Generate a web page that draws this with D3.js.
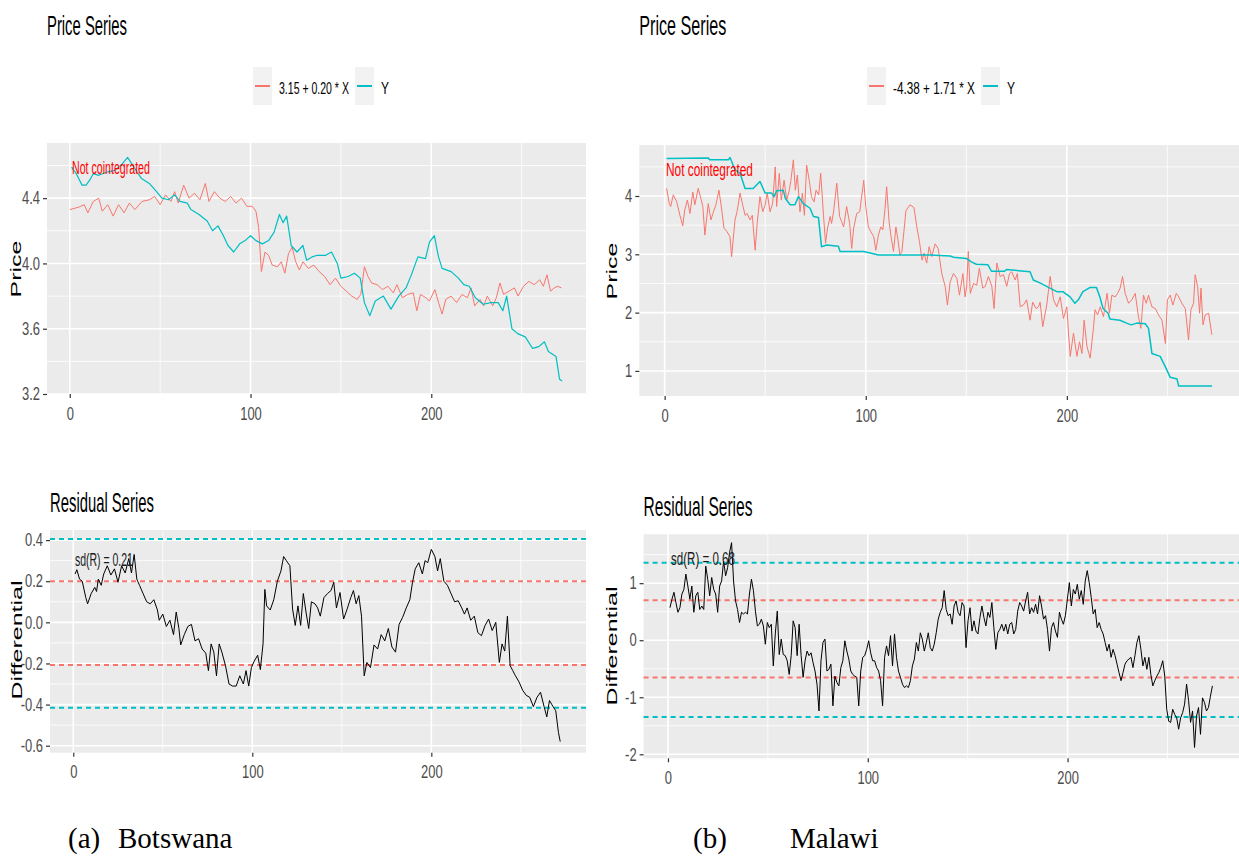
<!DOCTYPE html>
<html>
<head>
<meta charset="utf-8">
<script src="https://cdn.jsdelivr.net/npm/d3@7"></script>
<style>
  body { margin: 0; background: #fff; }
  svg { display: block; }
</style>
</head>
<body>
<script>
// ---- data: [t, value] ----
const xTicks = [0, 100, 200];
const xMinor = [50, 150, 250];

// (a) Botswana
const botswanaLegend = ["3.15 + 0.20 * X", "Y"];
const botswanaFitted = [[0,4.33],[5,4.345],[8,4.36],[10,4.31],[13,4.38],[16,4.40],[18,4.32],[21,4.36],[24,4.29],[27,4.36],[30,4.31],[33,4.37],[36,4.33],[40,4.38],[44,4.39],[47,4.41],[50,4.36],[53,4.42],[56,4.38],[58,4.44],[60,4.37],[63,4.48],[66,4.40],[69,4.43],[72,4.39],[75,4.49],[77,4.38],[80,4.44],[83,4.40],[86,4.38],[89,4.41],[92,4.37],[95,4.40],[98,4.35],[101,4.35],[103,4.32],[104.5,4.22],[106,3.95],[108,4.07],[110,4.05],[112,3.99],[115,3.98],[117,4.01],[119,3.94],[121,4.06],[123,4.10],[125,4.01],[127,3.96],[129,4.01],[132,3.97],[135,3.99],[138,3.95],[141,3.92],[144,3.87],[147,3.91],[150,3.86],[153,3.83],[156,3.80],[159,3.78],[161,3.81],[163,3.98],[165,3.92],[167,3.88],[170,3.87],[173,3.84],[176,3.86],[179,3.82],[181,3.87],[184,3.79],[187,3.81],[190,3.82],[192,3.71],[194,3.81],[197,3.79],[199,3.77],[202,3.84],[204,3.76],[206,3.69],[208,3.78],[211,3.80],[214,3.76],[217,3.81],[220,3.79],[222,3.85],[224,3.74],[227,3.78],[229,3.74],[231,3.80],[234,3.74],[236,3.79],[238,3.88],[240,3.81],[243,3.83],[246,3.85],[248,3.80],[251,3.86],[254,3.89],[257,3.87],[260,3.90],[262,3.86],[264,3.93],[266,3.83],[268,3.85],[270,3.86],[272,3.85]];
const botswanaY = [[1,4.59],[3.6,4.55],[6.8,4.48],[9,4.48],[11,4.51],[13,4.55],[16,4.54],[20.6,4.56],[25,4.57],[29,4.61],[32,4.65],[35.5,4.59],[39.7,4.52],[44,4.49],[48,4.44],[51,4.40],[54.6,4.39],[58,4.42],[61,4.38],[65,4.37],[67,4.33],[71.5,4.30],[76,4.26],[79,4.20],[82,4.23],[85,4.17],[87.5,4.11],[90.7,4.07],[94,4.12],[97,4.14],[100,4.17],[103,4.14],[106.6,4.12],[110,4.14],[113,4.19],[116,4.30],[118,4.25],[120,4.29],[122.5,4.11],[125.7,4.07],[129,4.11],[131,4.02],[134,4.04],[137,4.05],[141.6,4.05],[144.8,4.07],[148,4.00],[150,3.91],[154,3.92],[157.5,3.94],[160.7,3.91],[163,3.76],[166,3.68],[169,3.77],[173.5,3.80],[177.7,3.72],[182,3.80],[186,3.85],[189,3.93],[192.6,4.04],[196.8,4.03],[199,4.13],[201.7,4.17],[204,4.04],[206,3.97],[211,3.95],[215,3.91],[218,3.87],[221,3.86],[224.4,3.79],[228.7,3.75],[233,3.76],[237,3.76],[239.6,3.71],[241.7,3.80],[244.6,3.60],[247.8,3.57],[252,3.55],[256,3.48],[259.5,3.49],[262.6,3.52],[264.8,3.46],[269,3.43],[271,3.29],[272.4,3.28]];
const botswanaResid = [[1,0.235],[2,0.256],[3.5,0.21],[5,0.20],[7,0.12],[8,0.09],[10,0.14],[12,0.17],[13,0.15],[14,0.21],[15.6,0.18],[17,0.235],[19,0.275],[21,0.23],[23,0.26],[25,0.195],[27,0.275],[29,0.24],[31,0.31],[32.5,0.24],[34,0.33],[35.5,0.21],[37,0.18],[39,0.14],[41,0.10],[43,0.09],[45,0.11],[47,0.06],[48,0.01],[50,0.04],[52,-0.02],[54,0.01],[56,-0.06],[57.5,0.05],[59,-0.03],[60,-0.11],[62,-0.06],[64,-0.02],[66,-0.01],[68,-0.09],[70,-0.08],[72,-0.13],[74,-0.15],[75.5,-0.235],[77,-0.105],[78.5,-0.145],[80,-0.26],[81.5,-0.105],[83,-0.145],[85,-0.21],[87,-0.30],[89,-0.31],[91,-0.31],[93,-0.26],[95,-0.30],[96.5,-0.235],[98,-0.31],[99.5,-0.22],[101,-0.19],[103,-0.16],[104.5,-0.23],[106,-0.105],[107,0.16],[108,0.08],[110,0.06],[112,0.11],[114,0.20],[116,0.25],[117.5,0.32],[119,0.30],[121,0.275],[122.5,0.065],[124,-0.015],[125.5,0.08],[127,-0.015],[128.5,0.14],[130,0.05],[131.5,-0.03],[133,0.10],[135,0.09],[136.5,0.07],[138,0.03],[140,0.12],[142,0.14],[144,0.155],[145.5,0.195],[147,0.07],[149,0.145],[151,0.016],[153,0.065],[155,0.12],[156.5,0.155],[158,0.09],[159.5,0.13],[161,0.03],[162.5,-0.26],[164,-0.195],[166,-0.22],[168,-0.11],[170,-0.13],[172,-0.06],[174,-0.09],[176,-0.03],[178,-0.12],[180,-0.145],[182,-0.01],[184,0.025],[186,0.07],[188,0.11],[189.5,0.195],[191,0.26],[193,0.29],[195,0.235],[196.5,0.30],[198,0.29],[200,0.355],[202,0.32],[203.5,0.25],[205,0.31],[207,0.20],[209,0.18],[211,0.14],[213,0.10],[215,0.105],[217,0.07],[218.5,0.04],[220,0.07],[222,0.01],[224,0.03],[226,-0.05],[228,-0.065],[230,-0.016],[232,0.016],[234,-0.04],[236,0],[238,-0.195],[239.5,-0.105],[241,-0.14],[242.5,0.03],[244,-0.21],[245.5,-0.235],[247,-0.26],[249,-0.29],[251,-0.33],[253,-0.355],[255,-0.365],[257,-0.41],[259,-0.365],[261,-0.34],[263,-0.41],[264.5,-0.46],[266,-0.38],[268,-0.41],[269.5,-0.43],[271,-0.535],[272,-0.58]];
const botswanaSd = "sd(R) = 0.21";
const botswanaSdLines = [0.20, -0.208];
const botswanaTwoSdLines = [0.405, -0.416];

// (b) Malawi
const malawiLegend = ["-4.38 + 1.71 * X", "Y"];
const malawiFitted = [[1,4.13],[2.3,3.87],[3,3.82],[4.3,4.02],[6,3.90],[7.6,3.67],[9,3.49],[10,3.76],[11.3,3.93],[12.6,3.70],[14,4.07],[15,3.85],[16.7,4.13],[18,3.96],[19,3.82],[20,3.33],[21.7,3.87],[23,3.59],[24,3.70],[25.5,3.85],[27,4.10],[28.4,3.76],[29.5,3.45],[31,3.39],[32.5,3.30],[33.3,2.96],[35,3.59],[36,3.73],[37.5,4.05],[38.8,3.85],[40,3.67],[41,3.70],[42.5,3.59],[43.6,3.67],[45,3.07],[46,3.53],[47.4,3.99],[48.8,3.73],[50,3.85],[51,4.05],[52.4,3.73],[53.7,3.87],[55,4.50],[55.7,3.82],[57,4.39],[58,3.93],[59.4,4.27],[60.7,3.93],[62,4.10],[62.8,4.27],[64,4.62],[65,4.10],[66,4.36],[67.3,3.73],[68.5,4.05],[69.5,3.67],[70.6,4.53],[72,4.25],[73,3.99],[74.3,3.90],[75.3,4.10],[76.6,4.02],[77.6,4.39],[79,3.67],[80,3.19],[81,3.45],[82.3,3.65],[83,3.53],[84,3.73],[85.6,4.22],[87,3.65],[88,3.56],[89,3.47],[90.5,3.82],[92,3.53],[93,3.10],[94,3.45],[95.5,3.70],[97,3.73],[99,4.27],[100,3.82],[101.3,3.47],[102.5,3.39],[104,3.30],[105,3.07],[106.3,3.33],[107.5,3.47],[108.5,3.42],[109.6,3.79],[110.4,4.16],[111.6,3.56],[112.6,3.30],[113.8,3.05],[115,3.47],[116,3.25],[117,2.99],[118,3.05],[120,3.75],[122,3.85],[124,3.80],[125.4,3.47],[126.7,3.22],[128,2.90],[129,3.02],[130.3,2.85],[131.5,3.13],[132.8,2.96],[134.5,3.18],[136,3.10],[137.8,2.67],[139.5,2.45],[140.6,2.13],[142,2.53],[143.6,2.67],[145.3,2.59],[146.6,2.30],[148.3,2.67],[149.4,2.27],[150.2,2.45],[151,3.05],[152,2.33],[153.6,2.50],[155.2,2.47],[156.5,2.76],[158.2,2.42],[159.4,2.45],[161,2.62],[162.7,2.45],[163.8,2.07],[165.2,2.85],[166.8,2.62],[168.5,2.65],[170.1,2.45],[171.5,2.67],[172.6,2.70],[174.3,2.56],[175.4,2.67],[176.8,2.10],[178.4,2.13],[180,2.22],[181.7,1.87],[183,2.18],[184.7,2.07],[185.9,2.10],[186.7,2.18],[188,1.76],[190,2.13],[191.7,2.62],[193.4,2.22],[195,2.10],[196.7,2.27],[198.3,1.90],[200,2.10],[200.8,1.65],[201.7,1.25],[203.3,1.65],[205,1.25],[206.3,1.50],[207.5,1.30],[208.6,1.87],[210,1.42],[211.6,1.22],[213.3,1.76],[214,2.05],[215.3,1.96],[216.6,2.10],[218.2,1.93],[220,2.33],[221.2,1.99],[222.4,2.30],[224,2.27],[225.2,2.33],[226.5,2.42],[227.7,2.62],[229,2.33],[230.7,2.16],[232.3,2.22],[234,2.33],[235.6,1.93],[236.8,1.73],[238.1,2.30],[239.5,2.16],[240.6,2.30],[242.3,2.10],[244,2.07],[245.6,1.96],[247.3,1.87],[249,1.47],[250,2.22],[251.4,2.30],[252.7,2.13],[254.4,2.33],[255.6,2.27],[257.2,2.16],[258.9,2.07],[260.5,1.53],[261.7,2.05],[263,2.16],[263.8,2.65],[265,2.45],[266,1.99],[266.7,2.42],[267.7,1.79],[268.8,1.96],[270.5,1.99],[272.1,1.62]];
const malawiY = [[1,4.645],[21.7,4.65],[22.5,4.62],[31.7,4.62],[32.5,4.66],[35,4.45],[37.5,4.39],[40,4.13],[44,4.13],[47.4,4.25],[50,4.05],[53.2,4.05],[54.4,3.99],[55.7,4.09],[59,4.10],[60,3.96],[62.4,3.85],[64.8,3.85],[66.5,3.99],[69,3.87],[72.3,3.79],[74,3.65],[76.5,3.63],[78,3.13],[80.6,3.16],[86.4,3.14],[87.2,3.05],[99,3.05],[106.3,2.99],[132,2.99],[142,2.97],[143.6,2.95],[150,2.93],[152.5,2.87],[155,2.83],[160.8,2.82],[162.5,2.71],[169,2.71],[170,2.74],[181.7,2.70],[183.3,2.56],[186.6,2.51],[191.6,2.42],[195,2.36],[198,2.36],[201.6,2.27],[204,2.16],[205.7,2.22],[208,2.36],[211.4,2.43],[214.7,2.43],[216.4,2.27],[218,2.07],[220.5,1.99],[221.4,1.89],[226.4,1.87],[229.7,1.82],[232,1.79],[234.8,1.82],[239,1.81],[240.6,1.73],[242.3,1.30],[246.4,1.25],[249,1.07],[251.4,0.89],[254.8,0.86],[255.6,0.74],[272.2,0.74]];
// residual read at even steps from t = 1 to t = 272.5
const malawiResidRange = [1, 272.5];
const malawiResid = [0.57,0.72,0.84,0.66,0.49,0.57,0.81,0.89,1.16,0.95,0.72,0.95,0.49,0.78,0.84,0.54,0.60,0.54,1.30,1.07,0.78,1.10,0.89,0.81,0.49,0.95,1.04,1.39,1.13,1.27,1.54,1.71,1.04,0.69,0.54,0.31,0.49,0.46,0.49,0.46,0.81,1.07,0.87,0.51,0.25,0.28,0.37,0.25,-0.07,0.31,0.22,0.28,-0.45,0.11,0.51,-0.25,0.02,-0.25,-0.27,-0.36,-0.60,-0.27,0.34,0.22,-0.27,0.28,-0.27,-0.65,-0.36,-0.19,-0.27,-0.22,-0.39,-0.54,-0.77,-1.24,-0.36,-0.04,0.02,-0.54,-0.51,-0.42,-1.15,-0.63,-0.74,-0.80,-0.48,-0.36,-0.01,-0.19,-0.33,-0.54,-0.60,-0.63,-0.65,-1.15,-0.54,-0.30,-0.27,-0.16,-0.01,-0.22,-0.36,-0.36,-0.48,-0.54,-0.71,-1.15,-0.30,-0.10,-0.27,0.08,-0.45,0.11,-0.30,-0.54,-0.65,-0.77,-0.83,-0.80,-0.83,-0.71,-0.45,-0.33,-0.04,-0.19,0.13,0.02,-0.19,-0.04,0.13,-0.13,-0.19,-0.07,0.13,0.37,0.49,0.57,0.87,0.54,0.43,0.46,0.28,0.60,0.69,0.49,0.43,0.66,0.60,-0.13,0.34,0.57,0.16,0.34,0.16,0.11,0.40,0.60,0.40,0.25,0.49,0.40,0.66,0.22,-0.16,0.13,0.19,0.28,0.16,0.28,0.11,0.28,0.31,0.11,0.19,0.51,0.66,0.60,0.51,0.69,0.84,0.46,0.57,0.49,0.63,0.46,0.78,0.60,0.37,0.43,0.19,-0.19,0.22,0.31,0.16,0.05,0.49,0.37,0.28,0.43,0.72,1.01,0.60,0.89,0.81,0.98,0.72,0.87,0.63,1.04,1.22,1.01,0.75,0.46,0.54,0.22,0.31,0.19,0.11,-0.04,-0.19,-0.07,-0.30,-0.16,-0.27,-0.42,-0.57,-0.71,-0.57,-0.42,-0.36,-0.33,-0.30,-0.48,-0.27,-0.04,0.08,-0.16,-0.45,-0.30,-0.51,-0.30,-0.60,-0.80,-0.71,-0.63,-0.57,-0.48,-0.36,-0.63,-1.21,-1.42,-1.44,-1.21,-1.30,-1.36,-1.56,-1.36,-1.27,-1.12,-0.77,-1.06,-1.44,-1.24,-1.88,-1.33,-1.18,-1.65,-1.01,-1.09,-1.24,-1.18,-0.98,-0.80];
const malawiSd = "sd(R) = 0.68";
const malawiSdLines = [0.70, -0.655];
const malawiTwoSdLines = [1.36, -1.345];

// ---- drawing ----
const RED = "#F8766D", CYAN = "#00BFC4";
const sans = "'Liberation Sans', Arial, sans-serif";

const svg = d3.select("body").append("svg")
  .attr("width", 1239).attr("height", 856);

// ggplot prints a plain hyphen for negatives
const fmt = f => d => d3.format(f)(d).replace("\u2212", "-");

// squash a text horizontally by scaling it around its anchor point
function narrow(sel, k) {
  sel.each(function () {
    const t = d3.select(this);
    const x = +t.attr("x") || 0, y = +t.attr("y") || 0;
    t.attr("transform", `translate(${x},${y}) scale(${k},1) translate(${-x},${-y})`);
  });
}

// make a text exactly w pixels wide with a horizontal scale
function fitWidth(sel, w) {
  sel.each(function () {
    const natural = this.getComputedTextLength();
    narrow(d3.select(this), w / natural);
  });
}

function panel(o) {
  const x = d3.scaleLinear().domain(o.xDomain).range([o.left, o.right]);
  const y = d3.scaleLinear().domain(o.yDomain).range([o.bottom, o.top]);
  const g = svg.append("g");

  g.append("rect")
    .attr("x", o.left).attr("y", o.top)
    .attr("width", o.right - o.left).attr("height", o.bottom - o.top)
    .attr("fill", "#EBEBEB");

  // grid
  g.selectAll(".ymin").data(o.yMinor).join("line")
    .attr("x1", o.left).attr("x2", o.right)
    .attr("y1", d => y(d)).attr("y2", d => y(d))
    .attr("stroke", "#fff").attr("stroke-width", 0.8);
  g.selectAll(".xmin").data(xMinor).join("line")
    .attr("x1", d => x(d)).attr("x2", d => x(d))
    .attr("y1", o.top).attr("y2", o.bottom)
    .attr("stroke", "#fff").attr("stroke-width", 0.8);
  g.selectAll(".ymaj").data(o.yTicks).join("line")
    .attr("x1", o.left).attr("x2", o.right)
    .attr("y1", d => y(d)).attr("y2", d => y(d))
    .attr("stroke", "#fff").attr("stroke-width", 1.6);
  g.selectAll(".xmaj").data(xTicks).join("line")
    .attr("x1", d => x(d)).attr("x2", d => x(d))
    .attr("y1", o.top).attr("y2", o.bottom)
    .attr("stroke", "#fff").attr("stroke-width", 1.6);

  // axes
  const ya = g.append("g")
    .attr("transform", `translate(${o.left},0)`)
    .call(d3.axisLeft(y).tickValues(o.yTicks).tickFormat(o.yFormat).tickSize(4).tickPadding(3));
  const xa = g.append("g")
    .attr("transform", `translate(0,${o.bottom})`)
    .call(d3.axisBottom(x).tickValues(xTicks).tickFormat(d3.format("d")).tickSize(4).tickPadding(9));
  [ya, xa].forEach(a => {
    a.select(".domain").remove();
    a.selectAll(".tick line").attr("stroke", "#333").attr("stroke-width", 1.2);
    a.selectAll("text")
      .attr("fill", "#4D4D4D").attr("font-family", sans).attr("font-size", 18);
    narrow(a.selectAll("text"), 0.72);
  });

  // y title
  g.append("text")
    .attr("transform", `translate(${o.yTitleX},${o.yTitleY}) scale(0.6,1) rotate(-90)`)
    .attr("text-anchor", "middle")
    .attr("font-family", sans).attr("font-size", 25).attr("fill", "#000")
    .text(o.yTitle);

  // panel title
  g.append("text")
    .attr("x", o.left).attr("y", o.titleY)
    .attr("font-family", sans).attr("font-size", 27).attr("fill", "#000")
    .text(o.title)
    .call(fitWidth, o.titleW);

  return { x, y, g };
}

function series(p, data, color, width) {
  p.g.append("path")
    .datum(data)
    .attr("fill", "none").attr("stroke", color).attr("stroke-width", width)
    .attr("stroke-linejoin", "round")
    .attr("d", d3.line().x(d => p.x(d[0])).y(d => p.y(d[1])));
}

function hlines(p, vals, color) {
  p.g.selectAll(null).data(vals).join("line")
    .attr("x1", p.x.range()[0]).attr("x2", p.x.range()[1])
    .attr("y1", d => p.y(d)).attr("y2", d => p.y(d))
    .attr("stroke", color).attr("stroke-width", 2)
    .attr("stroke-dasharray", "5,4");
}

function note(p, txt, xPos, yMid, w, color) {
  p.g.append("text")
    .attr("x", xPos).attr("y", yMid + 6)
    .attr("font-family", sans).attr("font-size", 19).attr("fill", color)
    .text(txt)
    .call(fitWidth, w);
}

function legend(labels, x0, widths, yMid) {
  const colors = [RED, CYAN];
  let cx = x0;
  labels.forEach((lab, i) => {
    svg.append("rect").attr("x", cx).attr("y", yMid - 21).attr("width", 19).attr("height", 38)
      .attr("fill", "#F2F2F2");
    svg.append("line").attr("x1", cx + 2).attr("x2", cx + 17)
      .attr("y1", yMid - 2).attr("y2", yMid - 2)
      .attr("stroke", colors[i]).attr("stroke-width", 2);
    svg.append("text").attr("x", cx + 26).attr("y", yMid + 6)
      .attr("font-family", sans).attr("font-size", 17).attr("fill", "#000")
      .text(lab)
      .call(fitWidth, widths[i]);
    cx += 26 + widths[i] + 6;
  });
}

// (a) Botswana price
const pA = panel({
  left: 47, right: 586, top: 143, bottom: 394,
  xDomain: [-12.6, 285.6], yDomain: [3.2, 4.738],
  yTicks: [3.2, 3.6, 4.0, 4.4], yMinor: [3.4, 3.8, 4.2, 4.6], yFormat: fmt(".1f"),
  yTitle: "Price", yTitleX: 21, yTitleY: 269,
  title: "Price Series", titleY: 35, titleW: 80
});
series(pA, botswanaFitted, RED, 1);
series(pA, botswanaY, CYAN, 1.2);
note(pA, "Not cointegrated", 72, 168, 78, "#FF0000");
legend(botswanaLegend, 253, [70, 8], 88);

// (a) Botswana residual
const rA = panel({
  left: 50, right: 586, top: 530, bottom: 752.7,
  xDomain: [-13, 286.4], yDomain: [-0.634, 0.449],
  yTicks: [-0.6, -0.4, -0.2, 0, 0.2, 0.4], yMinor: [-0.5, -0.3, -0.1, 0.1, 0.3], yFormat: fmt(".1f"),
  yTitle: "Differential", yTitleX: 22, yTitleY: 640,
  title: "Residual Series", titleY: 512, titleW: 104
});
hlines(rA, botswanaSdLines, RED);
hlines(rA, botswanaTwoSdLines, CYAN);
series(rA, botswanaResid, "#000", 1);
note(rA, botswanaSd, 75, 560, 58, "#1A1A1A");

// (b) Malawi price
const pB = panel({
  left: 639.3, right: 1239, top: 145, bottom: 396,
  xDomain: [-12.6, 285.6], yDomain: [0.57, 4.875],
  yTicks: [1, 2, 3, 4], yMinor: [1.5, 2.5, 3.5, 4.5], yFormat: fmt("d"),
  yTitle: "Price", yTitleX: 617, yTitleY: 271,
  title: "Price Series", titleY: 35, titleW: 87
});
series(pB, malawiFitted, RED, 1);
series(pB, malawiY, CYAN, 1.5);
note(pB, "Not cointegrated", 666, 170, 87, "#FF0000");
legend(malawiLegend, 867, [82, 8], 88);

// (b) Malawi residual
const rB = panel({
  left: 643.6, right: 1239, top: 534.3, bottom: 758.3,
  xDomain: [-12.2, 285.8], yDomain: [-2.07, 1.857],
  yTicks: [-2, -1, 0, 1], yMinor: [-1.5, -0.5, 0.5, 1.5], yFormat: fmt("d"),
  yTitle: "Differential", yTitleX: 617, yTitleY: 646,
  title: "Residual Series", titleY: 516, titleW: 109
});
hlines(rB, malawiSdLines, RED);
hlines(rB, malawiTwoSdLines, CYAN);
const tStep = (malawiResidRange[1] - malawiResidRange[0]) / (malawiResid.length - 1);
series(rB, malawiResid.map((v, i) => [malawiResidRange[0] + i * tStep, v]), "#000", 1);
note(rB, malawiSd, 671, 559, 64, "#1A1A1A");

// captions
const serif = "'Liberation Serif', 'Times New Roman', serif";
[["(a)", 68], ["Botswana", 118], ["(b)", 693], ["Malawi", 790]].forEach(([t, xx]) => {
  svg.append("text").attr("x", xx).attr("y", 848)
    .attr("font-family", serif).attr("font-size", 29).attr("fill", "#000")
    .text(t);
});
</script>
</body>
</html>
